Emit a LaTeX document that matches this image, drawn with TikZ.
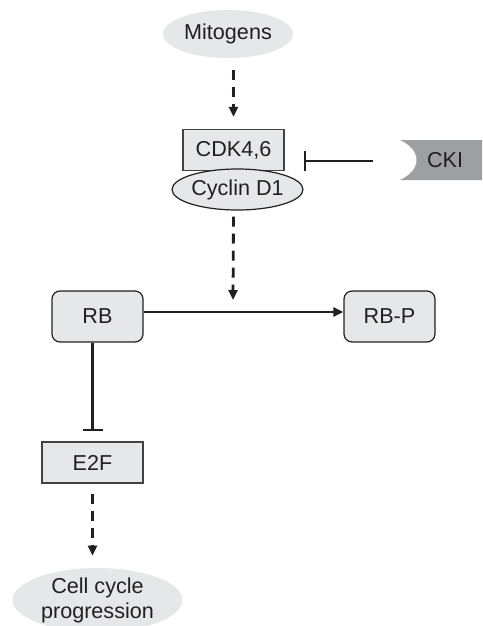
\documentclass[tikz,border=0pt]{standalone}
\usepackage{fontspec}
\setmainfont{Liberation Sans}
\usetikzlibrary{arrows.meta,shapes.geometric}
\definecolor{boxfill}{HTML}{E6E7E8}
\definecolor{ckifill}{HTML}{9D9FA2}
\definecolor{ink}{HTML}{231F20}
\begin{document}
\begin{tikzpicture}[x=0.5pt,y=-0.5pt,
  font=\fontsize{10.8}{12.5}\selectfont, text=ink,
  oval/.style={ellipse, fill=boxfill, inner sep=0pt},
  graybox/.style={rectangle, draw=ink!85, line width=0.6pt, fill=boxfill,
    minimum width=50.5pt, minimum height=20.5pt, inner sep=0pt},
  roundbox/.style={rectangle, rounded corners=4pt, draw=ink, line width=0.6pt,
    fill=boxfill, minimum width=45.5pt, minimum height=25.5pt, inner sep=0pt},
  dasharrow/.style={draw=ink, line width=1.4pt, dash pattern=on 5pt off 3.5pt,
    -{Triangle[length=5pt,width=4.5pt]}},
  activ/.style={draw=ink, line width=1.2pt, -{Triangle[length=5pt,width=4.5pt]}},
  inhib/.style={draw=ink, line width=1.2pt, -{Bar[width=10pt]}}]
\useasboundingbox (0,0) rectangle (482,626);
% nodes
\node[oval, minimum width=65pt, minimum height=24pt] (mito) at (228,34) {Mitogens};
\node[graybox] (cdk) at (233.5,150) {CDK4,6};
\node[oval, draw=ink, line width=0.6pt, minimum width=65.5pt, minimum height=20.5pt] (cyc) at (237.5,189.5) {Cyclin D1};
\fill[ckifill] (400,140) -- (482,140) -- (482,180) -- (400,180)
  .. controls (422,170) and (422,150) .. (400,140);
\node (cki) at (445,160) {CKI};
\node[roundbox] (rb) at (97.5,316.5) {RB};
\node[roundbox] (rbp) at (389.5,316.5) {RB-P};
\node[graybox] (e2f) at (92.5,462.5) {E2F};
\node[oval, minimum width=85pt, minimum height=26pt, align=center] (cell) at (97.5,600) {Cell cycle\\progression};
% coordinates
\coordinate (ckistart) at (373,161);
\coordinate (cdkbar) at (304,161);
\coordinate (rbtarget) at (233,300);
% connectors
\draw[dasharrow] ([yshift=-6pt]mito.south -| cdk.north) -- ([yshift=6pt]cdk.north);
\draw[inhib] (ckistart) -- (cdkbar);
\draw[dasharrow] ([yshift=-3pt]cyc.south -| cdk.south) -- (rbtarget);
\draw[activ] ([yshift=2.25pt]rb.east) -- ([yshift=2.25pt]rbp.west);
\draw[inhib] (rb.south -| e2f.north) -- ([yshift=5pt]e2f.north);
\draw[dasharrow] ([yshift=-5pt]e2f.south) -- ([yshift=6pt]cell.north -| e2f.south);
\end{tikzpicture}
\end{document}
